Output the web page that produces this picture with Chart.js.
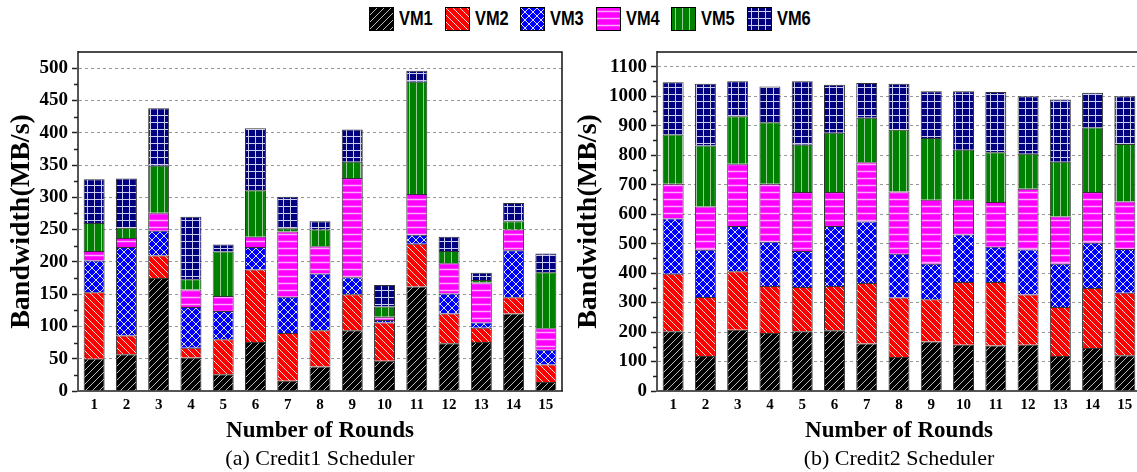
<!DOCTYPE html>
<html>
<head>
<meta charset="utf-8">
<script src="https://cdn.jsdelivr.net/npm/chart.js@4.4.1/dist/chart.umd.min.js"></script>
<style>
	body { margin: 0; width: 1137px; height: 472px; overflow: hidden; background: #fff; position: relative; font-family: 'Liberation Serif', 'Times New Roman', serif; }
	.box { position: absolute; top: 0; }
	.caption { position: absolute; top: 445px; font-size: 22px; transform: translateX(-50%); white-space: nowrap; color: #000; }
	.legend-item { position: absolute; top: 7px; height: 24px; }
	.legend-item canvas { position: absolute; left: 0; top: 0; border: 1px solid #000; display: block; }
	.legend-item span { position: absolute; left: 30px; top: 0; line-height: 24px; font: bold 20px 'Liberation Sans', Arial, sans-serif; color: #000; transform: scaleX(0.82); transform-origin: left center; white-space: nowrap; }
</style>
</head>
<body>
<div id="legend"></div>
<div class="box" style="left:0"><canvas id="credit1-chart" width="570" height="472"></canvas></div>
<div class="box" style="left:567px"><canvas id="credit2-chart" width="580" height="472"></canvas></div>
<div class="caption" style="left:320px">(a) Credit1 Scheduler</div>
<div class="caption" style="left:899px">(b) Credit2 Scheduler</div>
<script>
const rounds = ['1', '2', '3', '4', '5', '6', '7', '8', '9', '10', '11', '12', '13', '14', '15'];
const vmNames = ['VM1', 'VM2', 'VM3', 'VM4', 'VM5', 'VM6'];

// (a) Credit1 scheduler, MB/s per VM
const credit1Vm1 = [50, 57, 175, 52, 26, 76, 16, 38, 94, 47, 162, 74, 76, 120, 14];
const credit1Vm2 = [103, 29, 35, 15, 54, 112, 74, 56, 56, 59, 66, 46, 22, 25, 27];
const credit1Vm3 = [49, 137, 38, 63, 44, 35, 56, 88, 26, 4, 14, 31, 8, 73, 23];
const credit1Vm4 = [15, 14, 28, 27, 23, 16, 101, 42, 154, 5, 63, 47, 62, 32, 33];
const credit1Vm5 = [43, 16, 73, 16, 69, 72, 5, 26, 25, 16, 174, 19, 4, 13, 87];
const credit1Vm6 = [68, 76, 89, 97, 11, 96, 49, 13, 50, 33, 17, 22, 11, 28, 29];

// (b) Credit2 scheduler
const credit2Vm1 = [203, 119, 208, 197, 203, 206, 161, 115, 168, 157, 154, 157, 119, 146, 121];
const credit2Vm2 = [195, 200, 198, 159, 150, 150, 205, 202, 143, 213, 216, 170, 166, 203, 212];
const credit2Vm3 = [187, 160, 154, 150, 122, 204, 209, 149, 121, 161, 119, 153, 147, 154, 149];
const credit2Vm4 = [118, 147, 211, 197, 200, 115, 201, 211, 217, 118, 152, 206, 160, 172, 161];
const credit2Vm5 = [167, 207, 161, 209, 160, 201, 151, 209, 209, 169, 169, 119, 186, 219, 195];
const credit2Vm6 = [177, 209, 119, 121, 216, 163, 118, 156, 159, 199, 204, 195, 211, 118, 162];

const credit1Ticks = { max: 525, step: 50 };
const credit2Ticks = { max: 1150, step: 100 };

Chart.defaults.font.family = "'Liberation Serif', 'Times New Roman', serif";
Chart.defaults.color = '#000';

// hatch fills, one per VM
const makePattern = (kind, bg, fg, s, lw) => {
	const c = document.createElement('canvas');
	c.width = s;
	c.height = s;
	const g = c.getContext('2d');
	g.fillStyle = bg;
	g.fillRect(0, 0, s, s);
	g.strokeStyle = fg;
	g.lineWidth = lw;
	g.beginPath();
	if (kind === 'fwd' || kind === 'cross') {
		g.moveTo(-1, s + 1); g.lineTo(s + 1, -1);
		g.moveTo(-1, 1); g.lineTo(1, -1);
		g.moveTo(s - 1, s + 1); g.lineTo(s + 1, s - 1);
	}
	if (kind === 'back' || kind === 'cross') {
		g.moveTo(-1, -1); g.lineTo(s + 1, s + 1);
		g.moveTo(s - 1, -1); g.lineTo(s + 1, 1);
		g.moveTo(-1, s - 1); g.lineTo(1, s + 1);
	}
	if (kind === 'horiz' || kind === 'grid') {
		g.moveTo(0, s / 2); g.lineTo(s, s / 2);
	}
	if (kind === 'vert' || kind === 'grid') {
		g.moveTo(s / 2, 0); g.lineTo(s / 2, s);
	}
	g.stroke();
	return g.createPattern(c, 'repeat');
};

const patterns = [
	makePattern('fwd', '#000000', '#bbbbbb', 7, 1),
	makePattern('back', '#ff0000', '#ffdddd', 7, 1),
	makePattern('cross', '#0000ff', '#ddddff', 8, 1),
	makePattern('horiz', '#ff00ff', '#ffaaff', 7, 1.5),
	makePattern('vert', '#008000', '#99cc99', 7, 1),
	makePattern('grid', '#000080', '#ccccee', 7, 1)
];

// legend row
const legend = document.getElementById('legend');
vmNames.forEach((name, i) => {
	const item = document.createElement('div');
	item.className = 'legend-item';
	item.style.left = (369 + i * 75.6) + 'px';
	const sw = document.createElement('canvas');
	sw.width = 23;
	sw.height = 22;
	const g = sw.getContext('2d');
	g.fillStyle = patterns[i];
	g.fillRect(0, 0, 23, 22);
	const label = document.createElement('span');
	label.textContent = name;
	item.appendChild(sw);
	item.appendChild(label);
	legend.appendChild(item);
});

// minor ticks on y + top/right frame
const frame = {
	id: 'frame',
	afterDraw(chart, args, opts) {
		const { ctx, chartArea: a } = chart,
			y = chart.scales.y;
		ctx.save();
		ctx.strokeStyle = '#222';
		ctx.lineWidth = 1.5;
		for (let v = opts.step / 2; v < y.max; v += opts.step) {
			const py = Math.round(y.getPixelForValue(v)) + 0.5;
			ctx.beginPath();
			ctx.moveTo(a.left - 4, py);
			ctx.lineTo(a.left, py);
			ctx.stroke();
		}
		ctx.strokeStyle = '#111';
		ctx.beginPath();
		ctx.moveTo(a.left, a.top);
		ctx.lineTo(a.right, a.top);
		ctx.lineTo(a.right, a.bottom);
		ctx.stroke();
		ctx.restore();
	}
};

const newChart = ({ chartId, series, ticks, axisWidth, padRight }) => {
	const datasets = series.map((data, i) => ({
		label: vmNames[i],
		data,
		backgroundColor: patterns[i],
		borderColor: '#333',
		borderWidth: 1,
		barPercentage: 0.65,
		categoryPercentage: 1
	}));

	return new Chart(document.getElementById(chartId), {
		type: 'bar',
		data: { labels: rounds, datasets },
		plugins: [frame],
		options: {
			responsive: false,
			animation: false,
			layout: { padding: { top: 52, right: padRight, bottom: 25, left: 0 } },
			plugins: {
				legend: { display: false },
				tooltip: { enabled: false },
				frame: { step: ticks.step }
			},
			scales: {
				x: {
					stacked: true,
					afterFit: s => { s.height = 56; },
					grid: { drawOnChartArea: false, drawTicks: false },
					border: { color: '#555', width: 2 },
					ticks: { font: { size: 15, weight: 'bold' }, color: '#000', padding: 5 },
					title: {
						display: true,
						text: 'Number of Rounds',
						font: { size: 23, weight: 'bold' },
						color: '#000',
						padding: { top: 0, bottom: 2 }
					}
				},
				y: {
					stacked: true,
					min: 0,
					max: ticks.max,
					afterFit: s => { s.width = axisWidth; },
					afterBuildTicks: s => {
						s.ticks = [];
						for (let v = 0; v <= ticks.max; v += ticks.step) s.ticks.push({ value: v });
					},
					ticks: { callback: v => String(v), font: { size: 19, weight: 'bold' }, color: '#000', padding: 4 },
					grid: { color: '#999', lineWidth: 1, tickColor: '#222', tickLength: 6, tickWidth: 1.5, tickBorderDash: [] },
					border: { color: '#555', width: 2, dash: [3, 3] },
					title: {
						display: true,
						text: 'Bandwidth(MB/s)',
						font: { size: 28, weight: 'bold' },
						color: '#000',
						padding: { top: 5, bottom: 0 }
					}
				}
			}
		}
	});
};

newChart({
	chartId: 'credit1-chart',
	series: [credit1Vm1, credit1Vm2, credit1Vm3, credit1Vm4, credit1Vm5, credit1Vm6],
	ticks: credit1Ticks,
	axisWidth: 78,
	padRight: 8
});

newChart({
	chartId: 'credit2-chart',
	series: [credit2Vm1, credit2Vm2, credit2Vm3, credit2Vm4, credit2Vm5, credit2Vm6],
	ticks: credit2Ticks,
	axisWidth: 90,
	padRight: 6
});
</script>
</body>
</html>
